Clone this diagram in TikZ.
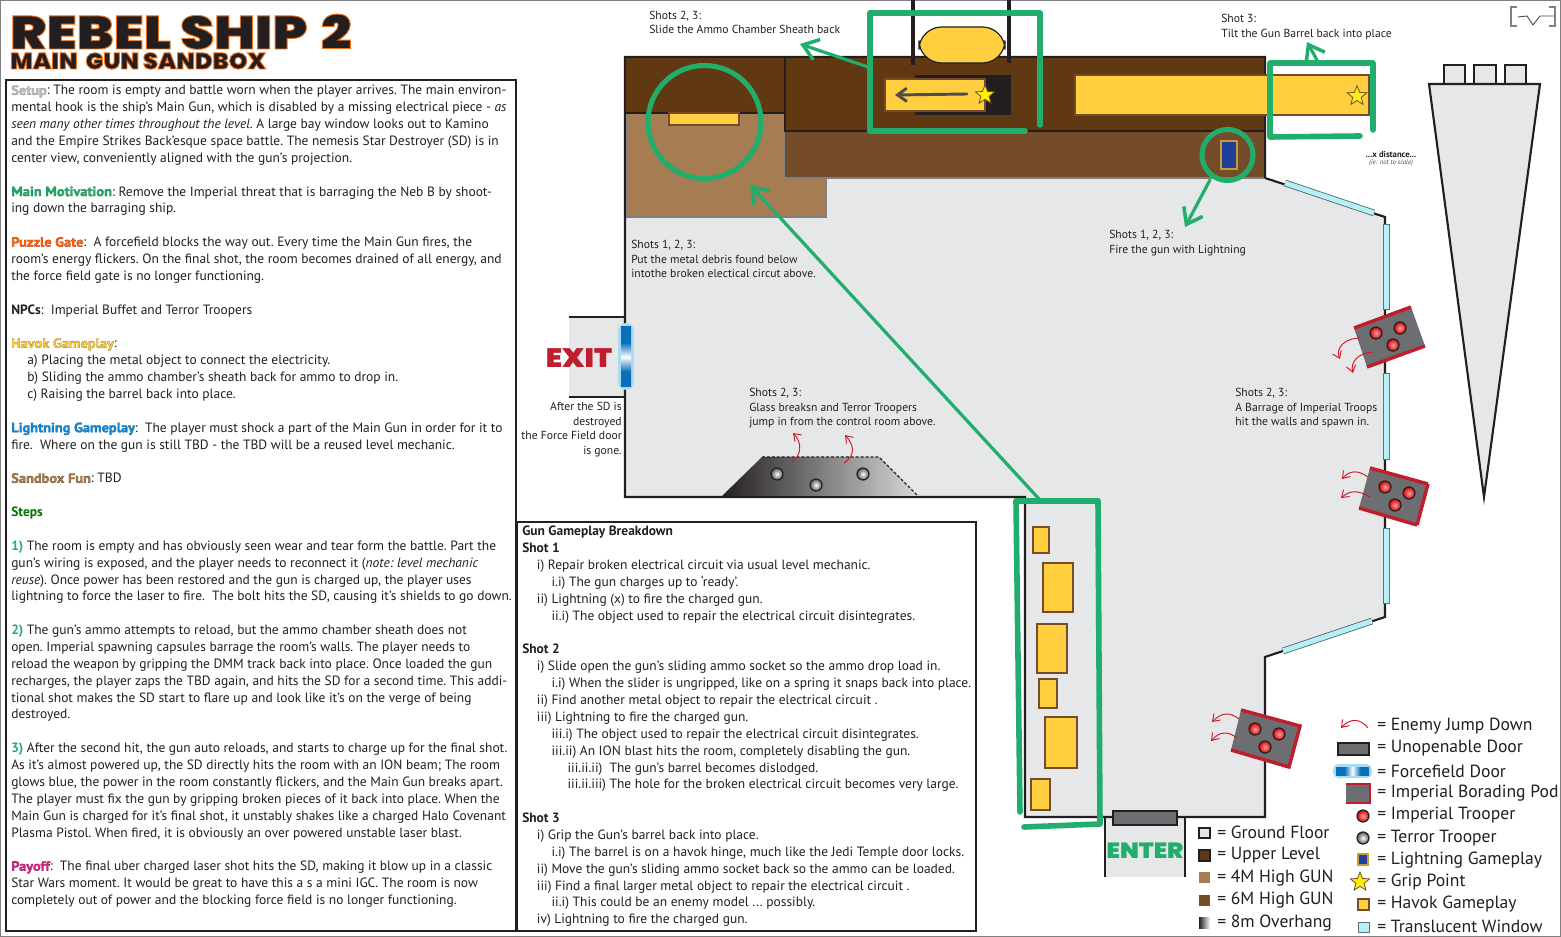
\documentclass[tikz,border=0pt]{standalone}
\usepackage{fontspec}
\usetikzlibrary{shapes.geometric,arrows.meta}
\setmainfont{PT Sans}
\newfontfamily\titlefont[FakeStretch=1.16]{Poppins Black}
\newfontfamily\subfont[FakeStretch=1.05]{Poppins Black}
\newfontfamily\signfont[FakeStretch=1.1]{Poppins Black}
\newfontfamily\headfont[FakeBold=1.4,FakeStretch=1.07]{PT Sans Bold}
\definecolor{gline}{HTML}{21AD6B}
\definecolor{floorc}{HTML}{E6E7E8}
\definecolor{upper}{HTML}{603913}
\definecolor{tanc}{HTML}{A67C52}
\definecolor{sixm}{HTML}{754C29}
\definecolor{inkc}{HTML}{231F20}
\definecolor{havok}{HTML}{FFCF40}
\definecolor{podg}{HTML}{6D6E71}
\definecolor{podr}{HTML}{BE1E2D}
\definecolor{winc}{HTML}{B5F0F7}
\definecolor{blitz}{HTML}{1F3F99}
\definecolor{ffblue}{HTML}{0A6FB8}
\definecolor{ffglow}{HTML}{A8DCF4}
\pgfdeclareverticalshading{ffshade}{100bp}{color(0bp)=(ffblue); color(38bp)=(ffblue); color(50bp)=(white); color(62bp)=(ffblue); color(100bp)=(ffblue)}
\newcommand{\outl}[3]{{\headfont\color{#1}\special{pdf:code #2 RG}#3}}
\newcommand{\ttl}[1]{{\color{inkc}\special{pdf:code 0.95 0.45 0.1 RG 0.7 w 2 Tr}#1\special{pdf:code 0 Tr}}}
\tikzset{
 x=0.75pt,y=-0.75pt,
 panel/.style={draw=inkc,line width=1.6pt,fill=white},
 body/.style={inner sep=0pt,anchor=north west,align=left,font=\fontsize{10.1}{12.65}\selectfont\frenchspacing,text=inkc},
 note/.style={inner sep=0pt,anchor=north west,align=left,font=\fontsize{8.75}{10.9}\selectfont\frenchspacing,text=inkc},
 legend/.style={inner sep=0pt,anchor=west,font=\fontsize{13.2}{15}\selectfont,text=inkc},
 wall/.style={draw=inkc,line width=1.6pt},
 gbrush/.style={draw=gline,line width=4.2pt,line join=round,line cap=round},
 garrow/.style={draw=gline,line cap=round,line width=2.4pt,-{Straight Barb[length=11pt,width=16pt,line width=2.6pt]}},
 redarrow/.style={draw=podr!80!red,line width=0.7pt,-{Straight Barb[length=5pt,width=7pt]}},
 block/.style={draw=sixm,line width=1pt,fill=havok},
 windowp/.style={draw=inkc!60!winc,line width=0.7pt,fill=winc},
 pod/.style={fill=podg},
 podedge/.style={draw=podr,line width=2.6pt},
 imptrooper/.style={circle,draw=inkc,line width=0.9pt,inner sep=0pt,minimum size=9pt,inner color=red!35!white,outer color=red!85!black},
 terrortrooper/.style={circle,draw=inkc,line width=0.9pt,inner sep=0pt,minimum size=9pt,inner color=white,outer color=gray!70!black},
 gripstar/.style={star,star points=5,star point ratio=2.3,inner sep=0pt,minimum size=#1,fill=yellow,draw=sixm,line width=0.6pt},
 swatch/.style={draw=inkc,line width=0.8pt},
}
\begin{document}
\begin{tikzpicture}
\useasboundingbox (0,0) rectangle (1561,937);
\fill[white] (0,0) rectangle (1561,937);
\draw[gray,line width=1.5pt] (0,0) rectangle (1561,937);

% title
\node[inner sep=0pt,anchor=base west,font=\titlefont\fontsize{35}{35}\selectfont] (title) at (10,49) {\ttl{REBEL SHIP\hspace{10pt}2}};
\node[inner sep=0pt,anchor=base west,font=\subfont\fontsize{17}{17}\selectfont] (subtitle) at (10,69) {\ttl{MAIN\hspace{6pt}GUN SANDBOX}};

% left panel
\draw[panel] (6,80) rectangle (516,931);
\node[body] (leftpanel) at (11,85) {%
\outl{lightgray}{0.5 0.5 0.5}{Setup}: The room is empty and battle worn when the player arrives. The main environ-\\
mental hook is the ship’s Main Gun, which is disabled by a missing electrical piece - \emph{as}\\
\emph{seen many other times throughout the level}. A large bay window looks out to Kamino\\
and the Empire Strikes Back’esque space battle. The nemesis Star Destroyer (SD) is in\\
center view, conveniently aligned with the gun’s projection.\\
~\\
\outl{gline}{0.1 0.45 0.3}{Main Motivation}: Remove the Imperial threat that is barraging the Neb B by shoot-\\
ing down the barraging ship.\\
~\\
\outl{orange!80!red}{0.7 0.2 0.1}{Puzzle Gate}:\ \ A forcefield blocks the way out. Every time the Main Gun fires, the\\
room’s energy flickers. On the final shot, the room becomes drained of all energy, and\\
the force field gate is no longer functioning.\\
~\\
\textbf{NPCs}:\ \ Imperial Buffet and Terror Troopers\\
~\\
\outl{havok}{0.5 0.4 0.1}{Havok Gameplay}:\\
\hspace*{12pt}a) Placing the metal object to connect the electricity.\\
\hspace*{12pt}b) Sliding the ammo chamber’s sheath back for ammo to drop in.\\
\hspace*{12pt}c) Raising the barrel back into place.\\
~\\
\outl{cyan!70!blue}{0.1 0.4 0.6}{Lightning Gameplay}:\ \ The player must shock a part of the Main Gun in order for it to\\
fire.\ \ Where on the gun is still TBD - the TBD will be a reused level mechanic.\\
~\\
\outl{tanc}{0.4 0.3 0.15}{Sandbox Fun}: TBD\\
~\\
\textbf{\color{green!45!black}Steps}\\
~\\
\textbf{\color{gline}1)} The room is empty and has obviously seen wear and tear form the battle. Part the\\
gun’s wiring is exposed, and the player needs to reconnect it (\emph{note: level mechanic}\\
\emph{reuse}). Once power has been restored and the gun is charged up, the player uses\\
lightning to force the laser to fire.\ \ The bolt hits the SD, causing it’s shields to go down.\\
~\\
\textbf{\color{gline}2)} The gun’s ammo attempts to reload, but the ammo chamber sheath does not\\
open. Imperial spawning capsules barrage the room’s walls. The player needs to\\
reload the weapon by gripping the DMM track back into place. Once loaded the gun\\
recharges, the player zaps the TBD again, and hits the SD for a second time. This addi-\\
tional shot makes the SD start to flare up and look like it’s on the verge of being\\
destroyed.\\
~\\
\textbf{\color{gline}3)} After the second hit, the gun auto reloads, and starts to charge up for the final shot.\\
As it’s almost powered up, the SD directly hits the room with an ION beam; The room\\
glows blue, the power in the room constantly flickers, and the Main Gun breaks apart.\\
The player must fix the gun by gripping broken pieces of it back into place. When the\\
Main Gun is charged for it’s final shot, it unstably shakes like a charged Halo Covenant\\
Plasma Pistol. When fired, it is obviously an over powered unstable laser blast.\\
~\\
\outl{magenta!80!black}{0.7 0.05 0.4}{Payoff}:\ \ The final uber charged laser shot hits the SD, making it blow up in a classic\\
Star Wars moment. It would be great to have this a s a mini IGC. The room is now\\
completely out of power and the blocking force field is no longer functioning.};

% middle panel
\draw[panel] (517,522) rectangle (976,931);
\node[body] (midpanel) at (522,526) {%
\textbf{Gun Gameplay Breakdown}\\
\textbf{Shot 1}\\
\hspace*{11pt}i) Repair broken electrical circuit via usual level mechanic.\\
\hspace*{22pt}i.i) The gun charges up to ‘ready’.\\
\hspace*{11pt}ii) Lightning (x) to fire the charged gun.\\
\hspace*{22pt}ii.i) The object used to repair the electrical circuit disintegrates.\\
~\\
\textbf{Shot 2}\\
\hspace*{11pt}i) Slide open the gun’s sliding ammo socket so the ammo drop load in.\\
\hspace*{22pt}i.i) When the slider is ungripped, like on a spring it snaps back into place.\\
\hspace*{11pt}ii) Find another metal object to repair the electrical circuit .\\
\hspace*{11pt}iii) Lightning to fire the charged gun.\\
\hspace*{22pt}iii.i) The object used to repair the electrical circuit disintegrates.\\
\hspace*{22pt}iii.ii) An ION blast hits the room, completely disabling the gun.\\
\hspace*{34pt}iii.ii.ii)\ \ The gun’s barrel becomes dislodged.\\
\hspace*{34pt}iii.ii.iii) The hole for the broken electrical circuit becomes very large.\\
~\\
\textbf{Shot 3}\\
\hspace*{11pt}i) Grip the Gun’s barrel back into place.\\
\hspace*{22pt}i.i) The barrel is on a havok hinge, much like the Jedi Temple door locks.\\
\hspace*{11pt}ii) Move the gun’s sliding ammo socket back so the ammo can be loaded.\\
\hspace*{11pt}iii) Find a final larger metal object to repair the electrical circuit .\\
\hspace*{22pt}ii.i) This could be an enemy model ... possibly.\\
\hspace*{11pt}iv) Lightning to fire the charged gun.};

% floor
\fill[floorc] (569,317) rectangle (625,397);
\fill[floorc] (1105,817) rectangle (1185,877);
\fill[floorc] (625,57) -- (1265,57) -- (1265,178) -- (1385,217) -- (1385,617) -- (1265,657) -- (1265,817) -- (1025,817) -- (1025,497) -- (625,497) -- cycle;
\draw[wall] (569,317) -- (625,317);
\draw[wall] (569,397) -- (625,397);
\draw[wall] (1105,817) -- (1105,877);
\draw[wall] (1185,817) -- (1185,877);
\draw[wall] (625,57) -- (1265,57) -- (1265,178) -- (1385,217) -- (1385,617) -- (1265,657) -- (1265,817) -- (1025,817) -- (1025,497) -- (625,497) -- cycle;

% levels
\fill[upper] (625,57) rectangle (1265,131);
\draw[draw=gray,line width=1pt,fill=tanc] (626,217) -- (826,217) -- (826,178) -- (785,178) -- (785,113) -- (626,113) -- cycle;
\fill[sixm] (785,131) rectangle (1265,178);
\draw[draw=gray,line width=1pt] (785,178) -- (1265,178);
\draw[draw=inkc,line width=1.1pt] (625,113) -- (785,113);
\draw[draw=inkc,line width=1.1pt] (785,57) -- (785,131) -- (1265,131);
\draw[wall] (625,57) -- (1265,57) -- (1265,178);
\draw[wall] (625,57) -- (625,497);

% gun parts
\draw[block,line width=0.8pt] (669,113) rectangle (739,125);
\fill[inkc] (915,75) rectangle (1011,115);
\draw[block] (885,79) rectangle (985,111);
\draw[inkc,line width=2.6pt] (913,0) -- (913,65);
\draw[inkc,line width=2.6pt] (1009,0) -- (1009,63);
\draw[draw=inkc,line width=0.9pt,fill=havok,rounded corners=17pt] (919,27) rectangle (1005,63);
\draw[block] (1075,75) rectangle (1369,115);
\draw[draw=inkc!80!white,line width=2.2pt,line cap=round,-{Straight Barb[length=7pt,width=10pt,line width=2.2pt]}] (967,94) -- (895,95);
\node[gripstar=15pt] (star1) at (985,95) {};
\node[gripstar=15.5pt,fill=havok!40!yellow] (star2) at (1357,96) {};
\draw[draw=havok!60!sixm,line width=1pt,fill=blitz] (1221,141) rectangle (1237,169);

% windows
\coordinate (wa1) at (1285,183); \coordinate (wa2) at (1374,213);
\draw[inkc!70!winc,line width=5pt] (wa1) -- (wa2);
\draw[winc,line width=3.8pt] (wa1) -- (wa2);
\draw[windowp] (1383,224) rectangle (1389,309);
\draw[windowp] (1383,373) rectangle (1389,459);
\draw[windowp] (1383,528) rectangle (1389,603);
\coordinate (wb1) at (1283,651); \coordinate (wb2) at (1372,621);
\draw[inkc!70!winc,line width=5pt] (wb1) -- (wb2);
\draw[winc,line width=3.8pt] (wb1) -- (wb2);

% forcefield door
\fill[ffglow,rounded corners=6pt] (618,323) rectangle (634,390);
\shade[shading=ffshade] (621,327) rectangle (631,387);

% overhang
\shade[left color=inkc,right color=gray!30] (722,496) -- (762,457) -- (879,457) -- (918,496) -- cycle;
\draw[inkc,line width=1pt,dash pattern=on 2.2pt off 1.5pt] (762,457) -- (879,457) -- (918,496);
\draw[inkc,line width=1.6pt] (625,497) -- (1025,497);
\node[terrortrooper] (tt1) at (777,474) {};
\node[terrortrooper] (tt2) at (816,485) {};
\node[terrortrooper] (tt3) at (863,474) {};
\coordinate (ra1) at (792,462); \coordinate (ra2) at (793,433);
\coordinate (rb1) at (844,463); \coordinate (rb2) at (845,435);
\draw[redarrow] (ra1) .. controls (802,455) and (802,442) .. (ra2);
\draw[redarrow] (rb1) .. controls (856,455) and (854,445) .. (rb2);

% pods
\fill[pod] (1354,328) -- (1411,307) -- (1425,346) -- (1367,367) -- cycle;
\draw[podedge] (1354,328) -- (1411,307);
\draw[podedge] (1425,346) -- (1367,367);
\node[imptrooper] (p1a) at (1376,333) {};
\node[imptrooper] (p1b) at (1400,328) {};
\node[imptrooper] (p1c) at (1393,345) {};
\fill[pod] (1370,468) -- (1428,484) -- (1417,525) -- (1359,508) -- cycle;
\draw[podedge] (1359,508) -- (1417,525);
\draw[podedge] (1428,484) -- (1370,468);
\draw[podedge] (1428,484) -- (1417,525);
\node[imptrooper] (p2a) at (1385,487) {};
\node[imptrooper] (p2b) at (1409,493) {};
\node[imptrooper] (p2c) at (1395,505) {};
\fill[pod] (1241,710) -- (1300,726) -- (1289,767) -- (1231,750) -- cycle;
\draw[podedge] (1231,750) -- (1289,767) -- (1300,726) -- (1241,710);
\node[imptrooper] (p3a) at (1255,729) {};
\node[imptrooper] (p3b) at (1279,734) {};
\node[imptrooper] (p3c) at (1265,747) {};
\coordinate (r1s) at (1360,338); \coordinate (r1e) at (1340,359);
\coordinate (r2s) at (1373,352); \coordinate (r2e) at (1353,373);
\coordinate (r3s) at (1368,477); \coordinate (r3e) at (1342,479);
\coordinate (r4s) at (1370,497); \coordinate (r4e) at (1341,498);
\coordinate (r5s) at (1239,719); \coordinate (r5e) at (1212,722);
\coordinate (r6s) at (1237,738); \coordinate (r6e) at (1211,741);
\draw[redarrow] (r1s) .. controls (1345,338) and (1335,348) .. (r1e);
\draw[redarrow] (r2s) .. controls (1358,353) and (1350,362) .. (r2e);
\draw[redarrow] (r3s) .. controls (1358,470) and (1350,470) .. (r3e);
\draw[redarrow] (r4s) .. controls (1358,490) and (1350,490) .. (r4e);
\draw[redarrow] (r5s) .. controls (1230,712) and (1222,712) .. (r5e);
\draw[redarrow] (r6s) .. controls (1228,731) and (1220,731) .. (r6e);

% yellow pieces in bottom corridor
\draw[block] (1033,527) rectangle (1049,553);
\draw[block] (1043,563) rectangle (1073,612);
\draw[block] (1037,624) rectangle (1067,673);
\draw[block] (1039,679) rectangle (1057,708);
\draw[block] (1045,717) rectangle (1077,768);
\draw[block] (1031,779) rectangle (1050,810);

% door and labels
\draw[draw=inkc,line width=1.5pt,fill=podg] (1113,811) rectangle (1177,825);
\node[inner sep=0pt,font=\signfont\fontsize{16.5}{17}\selectfont,text=gline] (enter) at (1145,851) {ENTER};
\node[inner sep=0pt,font=\signfont\fontsize{20}{20}\selectfont,text=podr] (exit) at (579,358) {EXIT};

% green marks
\draw[gbrush] (870,131) -- (870,13) -- (1040,13) -- (1040,125);
\draw[gbrush] (870,131) -- (1025,131);
\draw[gbrush] (1373,130) -- (1373,63) -- (1270,63) -- (1270,137) -- (1360,136);
\draw[gbrush] (1016,501) -- (1098,501);
\draw[gbrush] (1016,501) -- (1020,812);
\draw[gbrush] (1098,501) -- (1100,824) -- (1024,827);
\draw[gline,line width=3.8pt] (704.5,122) circle[radius=56.5];
\draw[gline,line width=3.8pt] (1227.5,155) circle[radius=25.5];
\coordinate (gaA) at (868,67); \coordinate (gaB) at (800,44);
\coordinate (gbA) at (1317,60); \coordinate (gbB) at (1307,42);
\coordinate (gcA) at (1210,180); \coordinate (gcB) at (1185,227);
\coordinate (gdA) at (1040,500); \coordinate (gdB) at (750,185);
\draw[garrow] (gaA) -- (gaB);
\draw[garrow] (gbA) -- (gbB);
\draw[garrow] (gcA) -- (gcB);
\draw[garrow] (gdA) -- (gdB);

% star destroyer
\draw[draw=inkc,line width=1.6pt,fill=floorc] (1444,65) rectangle (1465,84);
\draw[draw=inkc,line width=1.6pt,fill=floorc] (1474,65) rectangle (1496,84);
\draw[draw=inkc,line width=1.6pt,fill=floorc] (1505,65) rectangle (1526,84);
\draw[draw=inkc,line width=1.6pt,fill=floorc] (1429,84) -- (1540,84) -- (1484,497) -- cycle;

% corner glyph
\draw[gray,line width=0.8pt] (1517,7) -- (1511,7) -- (1511,26) -- (1517,26);
\draw[gray,line width=0.8pt] (1549,7) -- (1555,7) -- (1555,26) -- (1549,26);
\draw[inkc!80!white,line width=0.7pt] (1518,17) -- (1527,16) -- (1533,25) -- (1540,16) -- (1554,16);

% notes
\node[note] (n1) at (649,10.5) {Shots 2, 3:\\Slide the Ammo Chamber Sheath back};
\node[note] (n2) at (1221,14) {Shot 3:\\Tilt the Gun Barrel back into place};
\node[note] (n3) at (631,240) {Shots 1, 2, 3:\\Put the metal debris found below\\intothe broken electical circut above.};
\node[note] (n4) at (1109,230) {Shots 1, 2, 3:\\Fire the gun with Lightning};
\node[note] (n5) at (749,388) {Shots 2, 3:\\Glass breaksn and Terror Troopers\\jump in from the control room above.};
\node[note] (n6) at (1235,388) {Shots 2, 3:\\A Barrage of Imperial Troops\\hit the walls and spawn in.};
\node[note,anchor=north east,align=right] (n7) at (622,402) {After the SD is\\destroyed\\the Force Field door\\is gone.};
\node[inner sep=0pt,font=\bfseries\fontsize{6.5}{7}\selectfont,text=inkc] (n8) at (1391,154) {...x distance...};
\node[inner sep=0pt,font=\itshape\fontsize{5}{6}\selectfont,text=inkc!80!white] (n9) at (1391,163) {(ie: not to scale)};

% legend left
\draw[swatch,fill=floorc] (1199,828) rectangle (1210,838);
\fill[upper] (1199,850) rectangle (1210,861); \draw[swatch] (1199,850) rectangle (1210,861);
\fill[tanc] (1199,872) rectangle (1210,883);
\fill[sixm] (1199,895) rectangle (1210,906);
\shade[left color=inkc,right color=white] (1199,917) rectangle (1210,928);
\node[legend] (l1) at (1217,832) {= Ground Floor};
\node[legend] (l2) at (1217,855) {= Upper Level};
\node[legend] (l3) at (1217,878) {= 4M High GUN};
\node[legend] (l4) at (1217,900) {= 6M High GUN};
\node[legend] (l5) at (1217,923) {= 8m Overhang};

% legend right
\coordinate (ja) at (1368,728); \coordinate (jb) at (1341,728);
\draw[redarrow] (ja) .. controls (1360,718) and (1350,718) .. (jb);
\draw[draw=inkc,line width=1.5pt,fill=podg] (1338,743) rectangle (1369,755);
\fill[ffglow,rounded corners=4pt] (1333,764) rectangle (1372,778);
\shade[shading=ffshade,shading angle=90] (1336,767) rectangle (1369,775);
\fill[podg] (1346,784) rectangle (1370,803);
\draw[podr,line width=1.6pt] (1346,803) -- (1370,803) -- (1370,784) -- (1346,784);
\node[imptrooper] (li) at (1363,816) {};
\node[terrortrooper] (lt) at (1363,838) {};
\draw[draw=havok!60!sixm,line width=1pt,fill=blitz] (1358,854) rectangle (1368,865);
\node[gripstar=15pt] (lstar) at (1360,882) {};
\draw[block] (1358,899) rectangle (1369,910);
\draw[windowp] (1358,922) rectangle (1369,932);
\node[legend] (r1) at (1377,726) {= Enemy Jump Down};
\node[legend] (r2) at (1377,748) {= Unopenable Door};
\node[legend] (r3) at (1377,771) {= Forcefield Door};
\node[legend] (r4) at (1377,793) {= Imperial Borading Pod};
\node[legend] (r5) at (1377,815) {= Imperial Trooper};
\node[legend] (r6) at (1377,838) {= Terror Trooper};
\node[legend] (r7) at (1377,860) {= Lightning Gameplay};
\node[legend] (r8) at (1377,882) {= Grip Point};
\node[legend] (r9) at (1377,904) {= Havok Gameplay};
\node[legend] (r10) at (1377,926) {= Translucent Window};
\end{tikzpicture}
\end{document}
